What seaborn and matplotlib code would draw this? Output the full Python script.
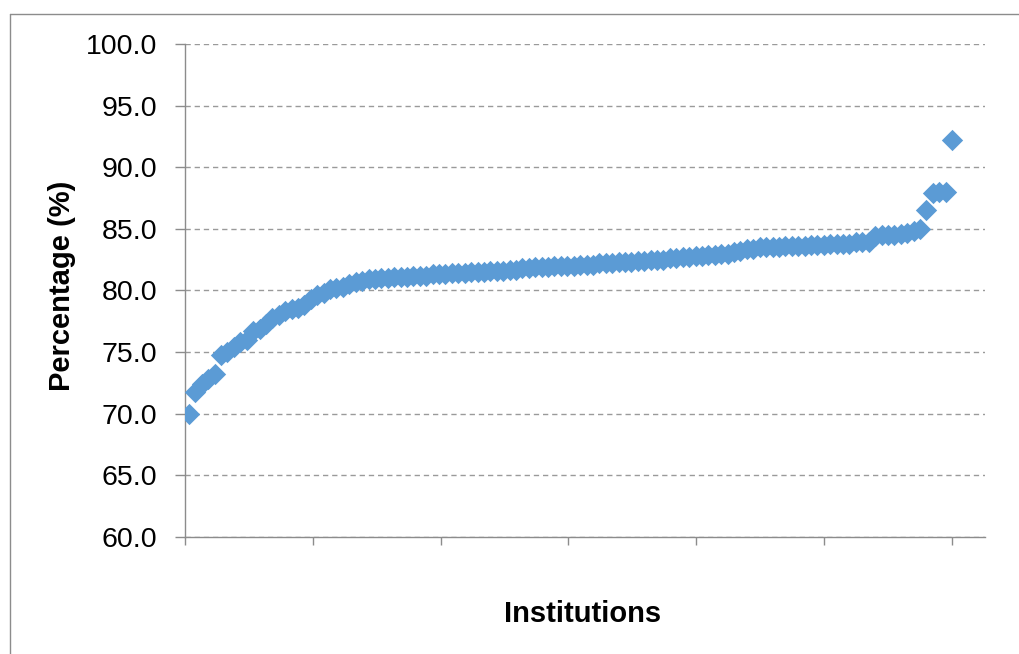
import matplotlib
matplotlib.use("Agg")
import matplotlib.pyplot as plt
import seaborn as sns
import pandas as pd
import numpy as np
from matplotlib.lines import Line2D

# ---- data (sorted ascending) ----
percentages = [
    70.0, 71.8, 72.4, 72.8, 73.2, 74.8, 75.0, 75.4, 75.8, 76.0,
    76.7, 76.9, 77.3, 77.8, 78.0, 78.3, 78.5, 78.6, 78.8, 79.3,
    79.6, 79.8, 80.1, 80.2, 80.3, 80.5, 80.7, 80.8, 80.9, 80.9,
    81.0, 81.0, 81.1, 81.1, 81.1, 81.2, 81.2, 81.2, 81.3, 81.3,
    81.3, 81.4, 81.4, 81.4, 81.5, 81.5, 81.5, 81.6, 81.6, 81.6,
    81.7, 81.7, 81.8, 81.8, 81.9, 81.9, 81.9, 82.0, 82.0, 82.0,
    82.0, 82.1, 82.1, 82.1, 82.2, 82.2, 82.2, 82.3, 82.3, 82.3,
    82.4, 82.4, 82.5, 82.5, 82.5, 82.6, 82.6, 82.7, 82.7, 82.8,
    82.8, 82.9, 82.9, 83.0, 83.0, 83.1, 83.2, 83.4, 83.4, 83.5,
    83.5, 83.5, 83.5, 83.6, 83.6, 83.6, 83.6, 83.7, 83.7, 83.7,
    83.8, 83.8, 83.8, 83.8, 83.9, 83.9, 83.9, 84.4, 84.5, 84.5,
    84.5, 84.6, 84.7, 84.8, 85.0, 86.5, 87.9, 88.0, 88.0, 92.2,
]
institutions = list(range(1, len(percentages) + 1))
y_ticks = [60, 65, 70, 75, 80, 85, 90, 95, 100]

df = pd.DataFrame({"Institution": institutions, "Percentage": percentages})

sns.set_theme(style="white")
plt.rcParams["font.family"] = ["Liberation Sans", "DejaVu Sans"]

fig = plt.figure(figsize=(10.19, 6.54), dpi=100)
W, H = 1019, 654
left, right, top, bottom = 185, 985, 44, 537
ax = fig.add_axes([left / W, 1 - bottom / H, (right - left) / W, (bottom - top) / H])

sns.scatterplot(data=df, x="Institution", y="Percentage", marker="D", s=118,
                color="#5B9BD5", linewidth=0, ax=ax, zorder=3, legend=False)

x0, x1 = 0.376, 125.14
ax.set_ylim(60, 100)
ax.set_xlim(x0, x1)
ax.set_yticks(y_ticks)
ax.set_yticklabels([f"{v:.1f}" for v in y_ticks], fontsize=20.5, color="black")
ax.set_xticks([x0 + j * 19.93 for j in range(7)])
ax.set_xticklabels([])

ax.grid(axis="y", color="#9A9A9A", linestyle=(0, (3.8, 2.8)), linewidth=1.0, zorder=0)
ax.grid(axis="x", visible=False)

for s in ["top", "right"]:
    ax.spines[s].set_visible(False)
for s in ["left", "bottom"]:
    ax.spines[s].set_color("#8C8C8C")
    ax.spines[s].set_linewidth(1.0)

ax.tick_params(axis="y", which="major", direction="out", length=7, width=1,
               color="#8C8C8C", pad=13, left=True)
ax.tick_params(axis="x", which="major", direction="out", length=6, width=1,
               color="#8C8C8C", bottom=True)

ax.set_ylabel("Percentage (%)", fontsize=21, fontweight="bold", color="black")
ax.yaxis.set_label_coords(-0.136, 0.509)
ax.set_xlabel("Institutions", fontsize=21, fontweight="bold", color="black")
ax.xaxis.set_label_coords(0.4975, -0.127)

# outer chart border (top and left visible)
fig.add_artist(Line2D([9.5 / W, 9.5 / W], [0, 1 - 13.5 / H], transform=fig.transFigure,
                      color="#8C8C8C", linewidth=1.0))
fig.add_artist(Line2D([9.5 / W, 1.0], [1 - 13.5 / H, 1 - 13.5 / H], transform=fig.transFigure,
                      color="#8C8C8C", linewidth=1.0))

fig.savefig("out.png", dpi=100, facecolor="white")
